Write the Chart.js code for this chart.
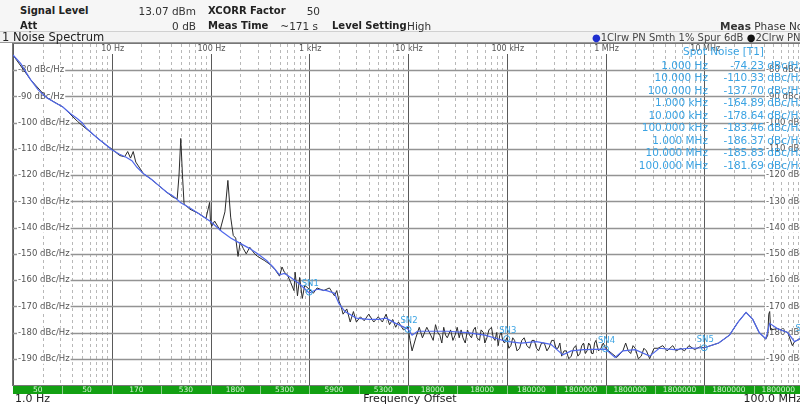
<!DOCTYPE html>
<html>
<head>
<meta charset="utf-8">
<script src="https://cdn.jsdelivr.net/npm/chart.js@4"></script>
<style>
html, body { margin: 0; padding: 0; overflow: hidden; background: #fff; }
body { width: 800px; height: 404px; position: relative; font-family: "DejaVu Sans", sans-serif; }
#wrap { position: absolute; left: 0; top: 0; width: 830px; height: 404px; }
#head { position: absolute; left: 0; top: 0; width: 800px; height: 31px; background: #f6f6f6; border-bottom: 1px solid #d0d0d0; }
#title { position: absolute; left: 0; top: 32px; width: 800px; height: 10px; background: #f2f2f2; border-bottom: 1px solid #9a9a9a; }
.t { position: absolute; white-space: nowrap; font-size: 10.5px; color: #333; line-height: 12px; }
.b { font-weight: bold; color: #222; font-size: 10px; }
.r { text-align: right; }
</style>
</head>
<body>
<div id="wrap"><canvas id="myChart" width="830" height="404"></canvas></div>
<div id="head"></div>
<div id="title"></div>
<div class="t b" style="left:20px;top:5px">Signal Level</div>
<div class="t r" style="left:120px;width:76px;top:5px">13.07 dBm</div>
<div class="t b" style="left:208px;top:5px">XCORR Factor</div>
<div class="t r" style="left:280px;width:40px;top:5px">50</div>
<div class="t b" style="left:20px;top:20px">Att</div>
<div class="t r" style="left:120px;width:76px;top:20px">0 dB</div>
<div class="t b" style="left:208px;top:20px">Meas Time</div>
<div class="t r" style="left:270px;width:48px;top:20px">~171 s</div>
<div class="t b" style="left:332px;top:20px">Level Setting</div>
<div class="t" style="left:407px;top:20px">High</div>
<div class="t" style="left:720px;top:20px"><b>Meas</b> Phase Noise</div>
<div class="t" style="left:2px;top:31px;font-size:11.5px;color:#222">1 Noise Spectrum</div>
<div class="t" style="left:592px;top:32px;font-size:10px;color:#444"><span style="color:#1f2fd0">&#9679;</span>1Clrw PN Smth 1% Spur 6dB <span style="color:#111">&#9679;</span>2Clrw PN</div>
<script>
// trace 1 (smoothed, blue)
const smoothFreq = [1, 1.2, 1.5, 1.8, 2.2, 2.7, 3.2, 3.8, 4.5, 5, 5.5, 6.5, 7.5, 8.5, 10, 12, 14, 16, 18, 21, 25, 30, 36, 42, 50, 62, 75, 100,
  130, 160, 200, 250, 300, 370, 430, 500, 560, 650, 800, 1000, 1200, 1500, 1800, 2000, 2300, 3000, 4000, 5000, 6000, 7500, 10000,
  11000, 12500, 15000, 25000, 40000, 60000, 100000, 140000, 200000, 280000, 370000, 450000, 600000, 1000000, 1250000, 1500000,
  2000000, 2800000, 3500000, 5000000, 7000000, 10000000, 14000000, 18000000, 22000000, 26500000, 31000000, 36000000, 42000000,
  46000000, 55000000, 70000000, 82000000, 100000000];
const smoothLevel = [-74.2, -77.5, -83.5, -87.5, -90.5, -92.5, -94, -96.5, -98.5, -100, -102, -104.5, -106.5, -108, -110.3, -112, -113.2, -114.5, -117, -119.5, -121.5, -124, -126.5, -128, -130.5, -132.5, -134.5, -137.7,
  -141.5, -144, -146, -148, -150, -152.5, -155, -158, -157.5, -159, -161.5, -164.9, -163.5, -164, -165, -169, -172, -174.5, -175, -175, -174.5, -176.5, -178.6,
  -181, -179.5, -179.5, -179.5, -180, -181, -183.4, -184, -183.5, -184.5, -188.5, -187, -186.5, -186.3, -189.5, -187,
  -186.5, -189, -186, -186.5, -186, -185.8, -184, -181, -176, -172.3, -175, -180, -182.3,
  -176.5, -178.5, -180, -183.5, -181.7];

// trace 2 (raw, black)
const rawFreq = [1, 1.5, 2.2, 3.2, 4.5, 5, 6.5, 8.5, 10, 12, 13.5, 14.5, 15.5, 16.5, 17.5, 21, 25, 30, 36, 42, 46, 48, 50, 52, 54, 62, 75, 90, 98, 100, 103, 110, 125, 140, 150, 160, 170, 180, 190, 200, 215, 230, 250, 280, 300, 350, 400, 450, 500, 530, 560, 600, 650, 700, 720, 760, 800, 850, 900,
  1000, 1100, 1200, 1400, 1600, 1800, 1900, 2000, 2100, 2200, 2400, 2600, 2800, 3000, 3300, 3600, 4000, 4500, 5000, 5500, 6000, 6500, 7000, 7500, 8000, 9000,
  10000, 10500, 11000, 12000, 13000, 14000, 15500, 17000, 18000, 19000, 20000, 21000, 22000, 23000, 24000, 25000, 27000, 28500, 30000, 31500, 33000, 34500, 36000, 38000, 40000, 42000, 44000, 46000, 48000, 50000, 53000, 55000, 58000, 60000, 63000, 66000, 70000, 73000, 76000, 79000, 82000, 85000, 88000, 91000, 95000,
  100000, 105000, 110000, 115000, 120000, 127000, 135000, 142000, 150000, 160000, 170000, 180000, 190000, 200000, 210000, 225000, 240000, 255000, 270000, 285000, 300000, 315000, 330000, 345000, 360000, 380000, 400000, 425000, 450000, 475000, 500000, 525000, 550000, 575000, 600000, 625000, 650000, 675000, 700000, 725000, 750000, 775000, 800000, 850000, 900000, 950000,
  1000000, 1300000, 1500000, 1600000, 1700000, 1800000, 1900000, 2000000, 2150000, 2300000, 2450000, 2600000, 2800000, 3100000, 3400000, 3800000, 4200000, 4800000, 5200000, 5800000, 6300000, 7000000, 8000000, 9000000,
  10000000, 14000000, 18000000, 22000000, 26500000, 31000000, 36000000, 42000000, 44000000, 45000000, 46000000, 47000000, 55000000, 70000000, 78000000, 82000000, 100000000];
const rawLevel = [-74.2, -83.5, -90.5, -94, -99.5, -101, -104.5, -108.2, -110, -112.5, -113, -111, -113.5, -111, -115, -119.5, -121.5, -124, -126.5, -128.5, -129, -120, -106, -120, -131, -133, -134.5, -136.5, -130.4, -138, -139.5, -137.5, -141, -134, -122, -136, -143, -144, -151, -145.5, -148, -150, -147.5, -150, -151, -152.5, -154, -156, -158.5, -155, -157, -158, -161, -164, -157, -166, -159, -167, -162,
  -163.5, -165, -163, -164, -163, -166, -164, -168, -170, -173, -171, -176, -172, -176, -174, -175.5, -173, -176, -174, -176, -173, -177, -175, -178, -176, -179,
  -178, -183, -187, -182, -178, -182, -178, -181, -183, -177, -180, -181, -184, -178, -181, -182, -179, -183, -181, -178, -182, -179, -182, -184, -179, -181, -182, -179, -178, -182, -183, -179, -180, -184, -182, -179, -178, -182, -183, -180, -185, -181, -180, -183, -184,
  -182, -186, -185, -182, -183, -187, -186, -183, -182, -185, -186, -183, -183, -186, -187, -184, -184, -187, -185.5, -183, -183, -186, -186, -184, -189, -187, -187, -190, -189, -186, -185, -189, -188, -185, -184, -188, -187, -184, -185, -188, -188, -184, -183, -187, -186, -184,
  -186, -189.5, -187, -184, -187, -188, -185, -186, -190, -189, -186, -187, -190, -186, -186, -185, -187, -185, -187, -186, -187, -185, -186.5, -185.5,
  -185.8, -184, -181, -176, -172.3, -175, -180, -182.5, -181, -173, -172, -179, -178.5, -180, -185, -183.5, -181.7];

// spot noise markers
const spotFreq = [1, 10, 100, 1000, 10000, 100000, 1000000, 10000000, 100000000];
const spotLabels = ['1.000 Hz', '10.000 Hz', '100.000 Hz', '1.000 kHz', '10.000 kHz', '100.000 kHz', '1.000 MHz', '10.000 MHz', '100.000 MHz'];
const spotValues = [-74.23, -110.33, -137.70, -164.89, -178.64, -183.46, -186.37, -185.83, -181.69];
const snFreq = [1000, 10000, 100000, 1000000, 10000000, 100000000];
const snLevel = [-164.6, -178.8, -182.3, -186.2, -185.8, -181.7];
const snNames = ['SN1', 'SN2', 'SN3', 'SN4', 'SN5', 'SN6'];

// axes
const yTicks = [-80, -90, -100, -110, -120, -130, -140, -150, -160, -170, -180, -190];
const decadeLabels = ['10 Hz', '100 Hz', '1 kHz', '10 kHz', '100 kHz', '1 MHz', '10 MHz'];
const rbwLabels = ['50', '50', '170', '530', '1800', '5300', '5900', '5300', '18000', '18000', '180000', '1800000', '1800000', '1800000', '1800000', '1800000'];

const FONT = '"DejaVu Sans", sans-serif';
const SPOT = '#3aa3e3';

function boxText(ctx, txt, x, y, align) {
  const w = ctx.measureText(txt).width;
  const x0 = align === 'left' ? x : x - w / 2;
  ctx.fillStyle = '#fff';
  ctx.fillRect(x0 - 1, y - 5, w + 2, 10);
  ctx.fillStyle = '#555';
  ctx.textAlign = align;
  ctx.fillText(txt, x, y);
}

const overlay = {
  id: 'overlay',
  beforeDatasetsDraw(chart) {
    const { ctx, chartArea: a, scales: { x, y } } = chart;
    ctx.save();
    // vertical grid
    for (let d = 0; d < 8; d++) {
      for (let m = 1; m <= 9; m++) {
        const px = Math.round(x.getPixelForValue(m * Math.pow(10, d))) + 0.5;
        ctx.beginPath();
        if (m === 1) { ctx.strokeStyle = '#5a5a5a'; ctx.setLineDash([]); }
        else { ctx.strokeStyle = '#b8b8b8'; ctx.setLineDash([3, 3]); }
        ctx.lineWidth = 1;
        ctx.moveTo(px, a.top);
        ctx.lineTo(px, a.bottom);
        ctx.stroke();
      }
    }
    ctx.setLineDash([]);
    // horizontal grid
    yTicks.forEach(v => {
      const py = Math.round(y.getPixelForValue(v)) + 0.5;
      ctx.strokeStyle = '#939393';
      ctx.lineWidth = 1.5;
      ctx.beginPath();
      ctx.moveTo(a.left, py);
      ctx.lineTo(a.right, py);
      ctx.stroke();
    });
    // frame
    ctx.strokeStyle = '#777';
    ctx.lineWidth = 1;
    ctx.strokeRect(a.left - 0.5, a.top - 0.5, a.right - a.left + 1, a.bottom - a.top + 1);
    // y labels
    ctx.font = '8.5px ' + FONT;
    ctx.textBaseline = 'middle';
    yTicks.forEach(v => {
      const py = y.getPixelForValue(v);
      boxText(ctx, v + ' dBc/Hz', a.left + 5, py, 'left');
      boxText(ctx, v + ' dBc/Hz', 766, py, 'left');
    });
    // decade labels
    ctx.font = '8px ' + FONT;
    decadeLabels.forEach((t, i) => {
      const px = x.getPixelForValue(Math.pow(10, i + 1));
      boxText(ctx, t, px + 1, a.top + 5, 'center');
    });
    ctx.restore();
  },
  afterDatasetsDraw(chart) {
    const { ctx, chartArea: a, scales: { x, y } } = chart;
    ctx.save();
    // SN labels
    ctx.font = '8.5px ' + FONT;
    ctx.fillStyle = SPOT;
    ctx.textAlign = 'center';
    ctx.textBaseline = 'bottom';
    snFreq.forEach((f, i) => {
      ctx.fillText(snNames[i], x.getPixelForValue(f) + 1, y.getPixelForValue(snLevel[i]) - 4);
    });
    // spot noise table
    ctx.font = '10.5px ' + FONT;
    ctx.textBaseline = 'middle';
    ctx.textAlign = 'left';
    ctx.fillText('Spot Noise [T1]', 683, 52);
    spotLabels.forEach((t, i) => {
      const py = 66 + i * 12.5;
      ctx.textAlign = 'right';
      ctx.fillText(t, 708, py);
      ctx.fillText(spotValues[i].toFixed(2), 764, py);
      ctx.textAlign = 'left';
      ctx.fillText(' dBc/Hz', 764, py);
    });
    // RBW bar
    ctx.fillStyle = '#12a012';
    ctx.fillRect(a.left, a.bottom + 1, a.right - a.left, 8);
    ctx.font = '7.5px ' + FONT;
    ctx.textAlign = 'center';
    rbwLabels.forEach((t, i) => {
      const x0 = x.getPixelForValue(Math.pow(10, i / 2));
      const x1 = x.getPixelForValue(Math.pow(10, (i + 1) / 2));
      ctx.fillStyle = '#d8f0d8';
      ctx.fillText(t, (x0 + x1) / 2, a.bottom + 5.5);
      ctx.fillStyle = '#8fd08f';
      ctx.fillRect(Math.round(x1), a.bottom + 1, 1, 8);
    });
    // bottom texts
    ctx.fillStyle = '#222';
    ctx.font = '11px ' + FONT;
    ctx.textAlign = 'left';
    ctx.fillText('1.0 Hz', 15, 399);
    ctx.textAlign = 'center';
    ctx.fillText('Frequency Offset', 410, 399);
    ctx.textAlign = 'right';
    ctx.fillText('100.0 MHz', 802, 399);
    ctx.restore();
  }
};

const toPoints = (xs, ys) => xs.map((v, i) => ({ x: v, y: ys[i] }));

new Chart(document.getElementById('myChart').getContext('2d'), {
  type: 'line',
  data: {
    datasets: [{
      label: 'SN',
      data: toPoints(snFreq, snLevel),
      showLine: false,
      pointRadius: 3,
      pointBorderColor: SPOT,
      pointBackgroundColor: 'rgba(0,0,0,0)',
      pointBorderWidth: 1,
      order: 0
    }, {
      label: '1Clrw PN Smth',
      data: toPoints(smoothFreq, smoothLevel),
      borderColor: '#5068ec',
      borderWidth: 1.2,
      pointRadius: 0,
      tension: 0,
      order: 1
    }, {
      label: '2Clrw PN',
      data: toPoints(rawFreq, rawLevel),
      borderColor: '#2a2a2a',
      borderWidth: 1,
      pointRadius: 0,
      tension: 0,
      order: 2
    }]
  },
  options: {
    responsive: false,
    animation: false,
    layout: { padding: { left: 13, top: 44, right: 27, bottom: 19 } },
    scales: {
      x: { type: 'logarithmic', min: 1, max: 100000000, display: false },
      y: { type: 'linear', min: -200, max: -70, display: false }
    },
    plugins: { legend: { display: false }, tooltip: { enabled: false } }
  },
  plugins: [overlay]
});
</script>
</body>
</html>
